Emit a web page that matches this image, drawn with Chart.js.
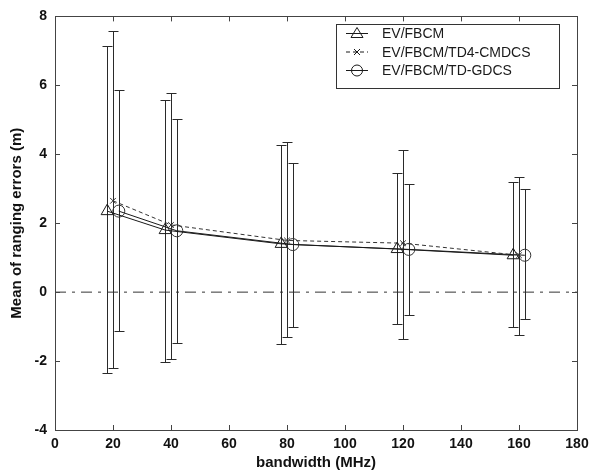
<!DOCTYPE html>
<html>
<head>
<meta charset="utf-8">
<script src="https://cdn.jsdelivr.net/npm/chart.js@4"></script>
<style>
  body { margin: 0; background: #fff; }
  #wrap { width: 600px; height: 473px; }
</style>
</head>
<body>
<div id="wrap"><canvas id="rangingErrors"></canvas></div>
<script>
// values
const xFBCM = [18, 38, 78, 118, 158];
const xTD4 = [20, 40, 80, 120, 160];
const xGDCS = [22, 42, 82, 122, 162];

const meanFBCM = [2.35, 1.8, 1.4, 1.25, 1.07];
const meanTD4 = [2.65, 1.95, 1.5, 1.42, 1.07];
const meanGDCS = [2.35, 1.78, 1.38, 1.24, 1.07];

const upperFBCM = [7.14, 5.58, 4.28, 3.47, 3.2];
const lowerFBCM = [-2.34, -2.02, -1.5, -0.93, -1.0];
const upperTD4 = [7.57, 5.78, 4.35, 4.13, 3.33];
const lowerTD4 = [-2.2, -1.94, -1.3, -1.36, -1.24];
const upperGDCS = [5.87, 5.03, 3.76, 3.15, 3.0];
const lowerGDCS = [-1.13, -1.47, -1.0, -0.65, -0.78];

const xTicks = [0, 20, 40, 60, 80, 100, 120, 140, 160, 180];
const yTicks = [-4, -2, 0, 2, 4, 6, 8];

const seriesLabels = ['EV/FBCM', 'EV/FBCM/TD4-CMDCS', 'EV/FBCM/TD-GDCS'];

const toPoints = (xs, ys) => xs.map((x, i) => ({ x: x, y: ys[i] }));

const ink = '#1a1a1a';
const fontFamily = '"Liberation Sans", Arial, sans-serif';

// MATLAB style frame, inner ticks, zero line, error bars and legend
const matlabPlugin = {
    id: 'matlabPlugin',
    beforeDatasetsDraw(chart) {
        const ctx = chart.ctx;
        const xs = chart.scales.x, ys = chart.scales.y;
        const a = chart.chartArea;
        ctx.save();
        // zero line, dash-dot
        ctx.strokeStyle = '#333';
        ctx.lineWidth = 1;
        ctx.setLineDash([11, 6, 3, 6]);
        ctx.beginPath();
        ctx.moveTo(a.left, ys.getPixelForValue(0));
        ctx.lineTo(a.right, ys.getPixelForValue(0));
        ctx.stroke();
        ctx.setLineDash([]);
        // error bars
        const bars = [
            [xFBCM, upperFBCM, lowerFBCM],
            [xTD4, upperTD4, lowerTD4],
            [xGDCS, upperGDCS, lowerGDCS]
        ];
        ctx.strokeStyle = '#2a2a2a';
        bars.forEach(([xv, up, lo]) => {
            xv.forEach((x, i) => {
                const px = Math.round(xs.getPixelForValue(x)) + 0.5;
                const pu = Math.round(ys.getPixelForValue(up[i])) + 0.5;
                const pl = Math.round(ys.getPixelForValue(lo[i])) + 0.5;
                ctx.beginPath();
                ctx.moveTo(px, pu); ctx.lineTo(px, pl);
                ctx.moveTo(px - 5, pu); ctx.lineTo(px + 5, pu);
                ctx.moveTo(px - 5, pl); ctx.lineTo(px + 5, pl);
                ctx.stroke();
            });
        });
        ctx.restore();
    },
    afterDraw(chart) {
        const ctx = chart.ctx;
        const xs = chart.scales.x, ys = chart.scales.y;
        const a = chart.chartArea;
        ctx.save();
        ctx.strokeStyle = '#444';
        ctx.lineWidth = 1;
        ctx.strokeRect(Math.round(a.left) + 0.5, Math.round(a.top) + 0.5,
            Math.round(a.right - a.left), Math.round(a.bottom - a.top));
        ctx.beginPath();
        xTicks.forEach(t => {
            const p = Math.round(xs.getPixelForValue(t)) + 0.5;
            ctx.moveTo(p, a.bottom); ctx.lineTo(p, a.bottom - 5);
            ctx.moveTo(p, a.top); ctx.lineTo(p, a.top + 5);
        });
        yTicks.forEach(t => {
            const p = Math.round(ys.getPixelForValue(t)) + 0.5;
            ctx.moveTo(a.left, p); ctx.lineTo(a.left + 5, p);
            ctx.moveTo(a.right, p); ctx.lineTo(a.right - 5, p);
        });
        ctx.stroke();

        // legend
        const lx = 336, ly = 24, lw = 223, lh = 64;
        ctx.fillStyle = '#fff';
        ctx.fillRect(lx, ly, lw, lh);
        ctx.strokeStyle = '#333';
        ctx.strokeRect(lx + 0.5, ly + 0.5, lw, lh);
        ctx.font = '14px ' + fontFamily;
        ctx.textBaseline = 'middle';
        chart.data.datasets.forEach((ds, i) => {
            const yy = ly + 9.5 + i * 18.5;
            ctx.strokeStyle = ink;
            ctx.lineWidth = 1;
            ctx.setLineDash(ds.borderDash || []);
            ctx.beginPath();
            ctx.moveTo(lx + 10, yy); ctx.lineTo(lx + 32, yy);
            ctx.stroke();
            ctx.setLineDash([]);
            const cx = lx + 21;
            ctx.beginPath();
            if (ds.pointStyle === 'triangle') {
                ctx.moveTo(cx, yy - 6); ctx.lineTo(cx + 6, yy + 4); ctx.lineTo(cx - 6, yy + 4); ctx.closePath();
            } else if (ds.pointStyle === 'circle') {
                ctx.arc(cx, yy, 5.5, 0, Math.PI * 2);
            } else {
                ctx.moveTo(cx - 3, yy - 3); ctx.lineTo(cx + 3, yy + 3);
                ctx.moveTo(cx + 3, yy - 3); ctx.lineTo(cx - 3, yy + 3);
            }
            ctx.stroke();
            ctx.fillStyle = ink;
            ctx.fillText(ds.label, lx + 46, yy + 1);
        });
        ctx.restore();
    }
};

const rangingErrors = document.getElementById('rangingErrors');

new Chart(rangingErrors, {
    type: 'line',
    data: {
        datasets: [
            {
                label: seriesLabels[0],
                data: toPoints(xFBCM, meanFBCM),
                borderColor: ink,
                borderWidth: 1,
                pointStyle: 'triangle',
                pointRadius: 7,
                pointBackgroundColor: 'rgba(0,0,0,0)',
                pointBorderColor: ink,
                pointBorderWidth: 1
            },
            {
                label: seriesLabels[1],
                data: toPoints(xTD4, meanTD4),
                borderColor: '#333',
                borderWidth: 1,
                borderDash: [4, 3],
                pointStyle: 'crossRot',
                pointRadius: 4,
                pointBorderColor: '#333',
                pointBorderWidth: 1
            },
            {
                label: seriesLabels[2],
                data: toPoints(xGDCS, meanGDCS),
                borderColor: ink,
                borderWidth: 1,
                pointStyle: 'circle',
                pointRadius: 6,
                pointBackgroundColor: 'rgba(0,0,0,0)',
                pointBorderColor: '#333',
                pointBorderWidth: 1
            }
        ]
    },
    options: {
        responsive: true,
        maintainAspectRatio: false,
        animation: false,
        layout: {
            padding: { top: 15, right: 23, left: 0, bottom: 0 }
        },
        scales: {
            x: {
                type: 'linear',
                min: 0,
                max: 180,
                afterBuildTicks: (s) => { s.ticks = xTicks.map(v => ({ value: v })); },
                afterFit: (s) => { s.height = 43; },
                grid: { display: false, drawTicks: false },
                border: { display: false },
                ticks: {
                    color: '#111',
                    padding: 6,
                    maxRotation: 0,
                    font: { family: fontFamily, size: 14, weight: 'bold' }
                },
                title: {
                    display: true,
                    text: 'bandwidth (MHz)',
                    color: '#111',
                    padding: { top: 0, bottom: 1 },
                    font: { family: fontFamily, size: 15, weight: 'bold' }
                }
            },
            y: {
                min: -4,
                max: 8,
                afterBuildTicks: (s) => { s.ticks = yTicks.map(v => ({ value: v })); },
                afterFit: (s) => { s.width = 55; },
                grid: { display: false, drawTicks: false },
                border: { display: false },
                ticks: {
                    color: '#111',
                    padding: 8,
                    font: { family: fontFamily, size: 14, weight: 'bold' }
                },
                title: {
                    display: true,
                    text: 'Mean of ranging errors (m)',
                    color: '#111',
                    padding: { top: 8, bottom: 0 },
                    font: { family: fontFamily, size: 15, weight: 'bold' }
                }
            }
        },
        plugins: {
            legend: { display: false },
            tooltip: { enabled: false }
        }
    },
    plugins: [matlabPlugin]
});
</script>
</body>
</html>
